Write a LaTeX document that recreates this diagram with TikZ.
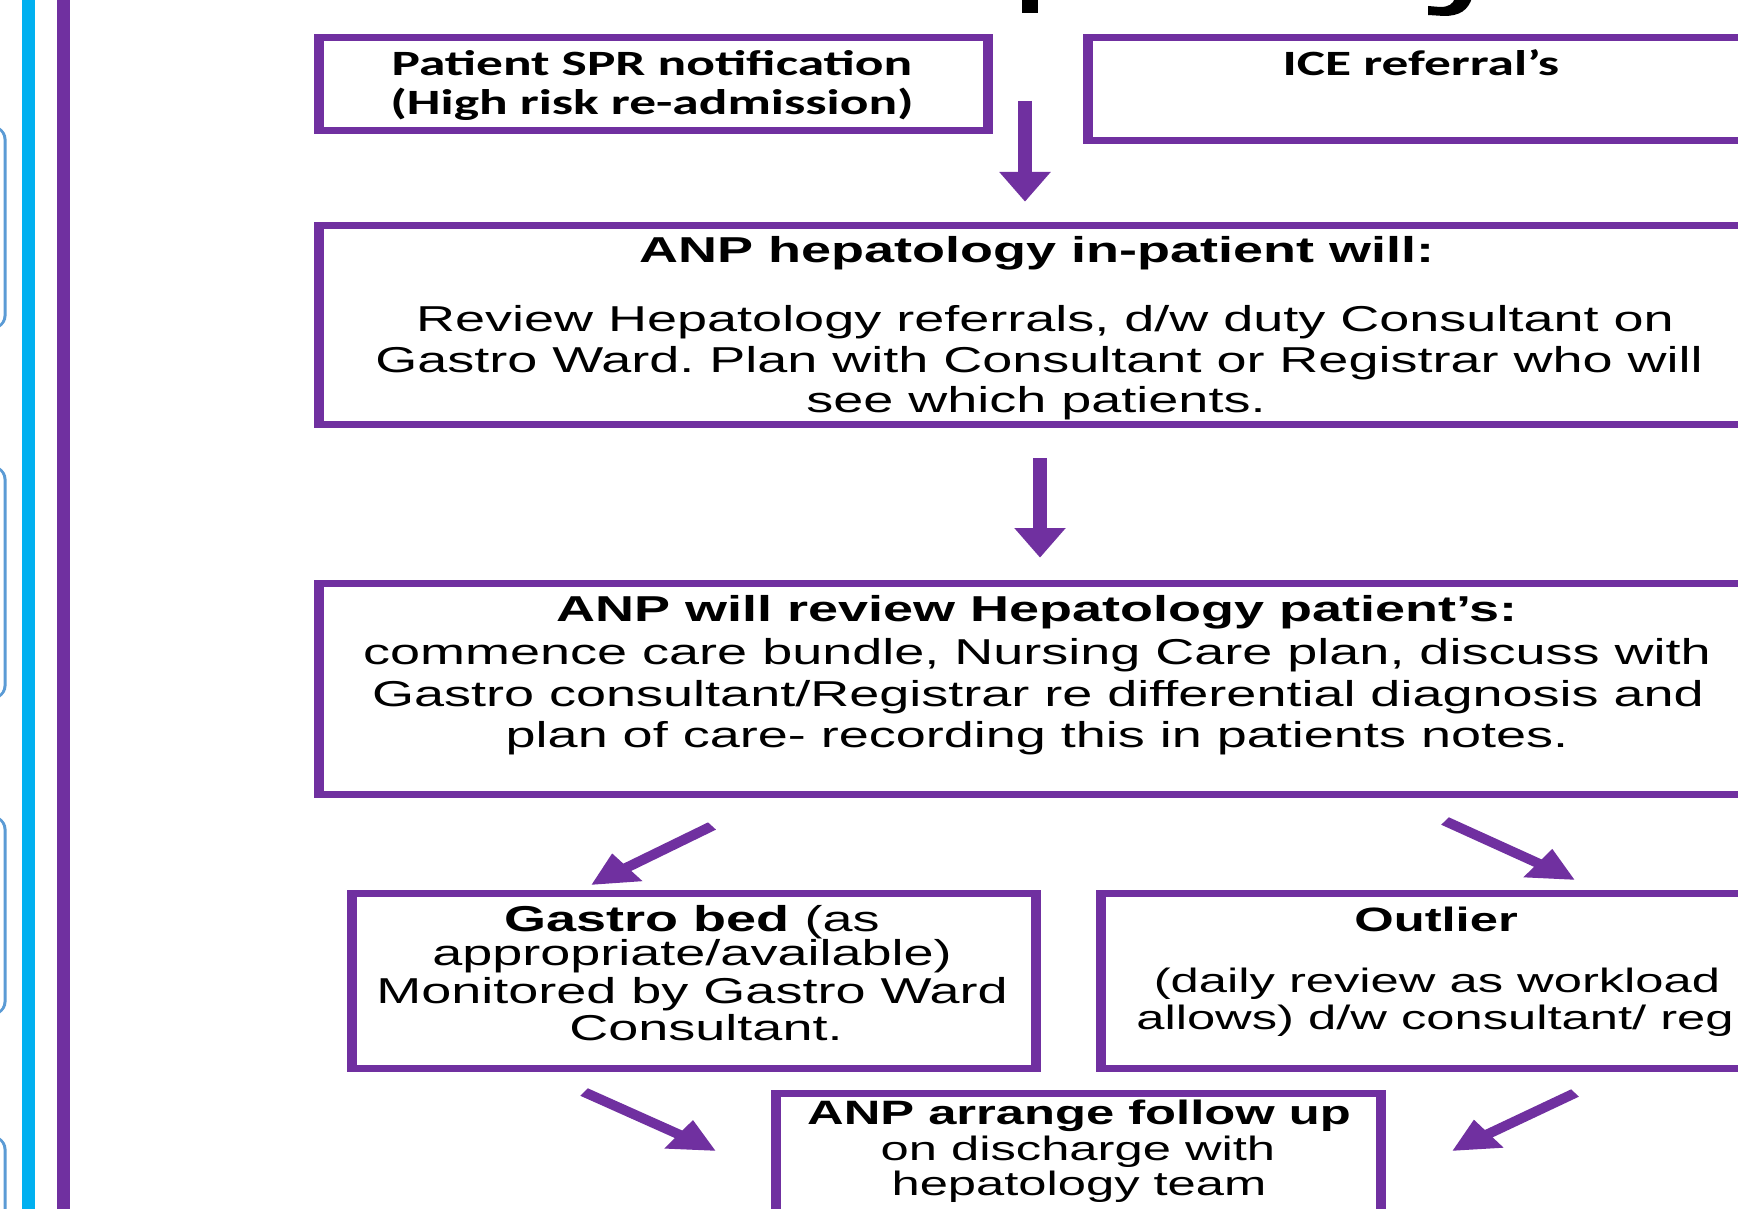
\documentclass[tikz,border=0pt]{standalone}
\usepackage{fontspec}
\setmainfont{Liberation Sans}
\newfontfamily\calib{Carlito}
\usetikzlibrary{arrows.meta,fit}
\definecolor{purp}{HTML}{7030A0}
\definecolor{cyanbar}{HTML}{00B0F0}
\definecolor{sideblue}{HTML}{5B9BD5}
\frenchspacing
\begin{document}
\begin{tikzpicture}[x=1pt,y=-1pt]
\useasboundingbox[fill=white] (0,0) rectangle (1738,1209);
\begin{scope}[x={(0.666667pt,0pt)}, y={(0pt,-1pt)}, transform canvas={xscale=1.5},
  box/.style={draw=purp, line width=7pt, inner sep=0pt, outer sep=0pt},
  big/.style={anchor=base, inner sep=0pt, font=\fontsize{36}{41}\selectfont},
  small/.style={anchor=base, inner sep=0pt, font=\fontsize{33.8}{38}\selectfont},
  cal/.style={anchor=base, inner sep=0pt, font=\calib\bfseries\fontsize{35.6}{40}\selectfont},
  arr/.style={draw=purp, line width=9pt, -{Triangle[width=32pt,length=30pt]}},
  side/.style={draw=sideblue, line width=2pt, rounded corners=16pt}]

% left margin decorations
\draw[side] (-200,123) rectangle (5,332);
\draw[side] (-200,463) rectangle (5,702);
\draw[side] (-200,813) rectangle (5,1018);
\draw[side] (-200,1133) rectangle (5,1500);
\fill[cyanbar] (22,-5) rectangle (35,1215);
\fill[purp] (57,-5) rectangle (70,1215);

% title fragments (descenders)
\fill[black] (1022,-2) rectangle (1038,13);
\fill[black] (1455,-2) -- (1472,-2) .. controls (1468,10) and (1460,16) .. (1444,16)
  -- (1428,15) -- (1428,6) -- (1440,7) .. controls (1449,7) and (1453,4) .. (1455,-2) -- cycle;

% boxes
\node[box, fit={(319,37.5) (988,130.5)}] (A) {};
\node[box, fit={(1088,37.5) (1755,140.5)}] (B) {};
\node[box, fit={(319,225.5) (1770,424.5)}] (C) {};
\node[box, fit={(319,583.5) (1755,794.5)}] (D) {};
\node[box, fit={(352,893.5) (1036,1068.5)}] (E) {};
\node[box, fit={(1101,893.5) (1770,1068.5)}] (F) {};
\node[box, fit={(776,1093.5) (1381,1256)}] (G) {};

% texts
\node[cal] (a1) at (652,76) {Patient SPR notification};
\node[cal] (a2) at (652,115) {(High risk re-admission)};
\node[cal] (b1) at (1421,76) {ICE referral’s};

\node[big, font=\bfseries\fontsize{36}{41}\selectfont] (c0) at (1037,262) {ANP hepatology in-patient will:};
\node[big] (c1) at (1045,331) {Review Hepatology referrals, d/w duty Consultant on};
\node[big] (c2) at (1039,372) {Gastro Ward. Plan with Consultant or Registrar who will};
\node[big] (c3) at (1036,412) {see which patients.};

\node[big, font=\bfseries\fontsize{36}{41}\selectfont] (d0) at (1037,621) {ANP will review Hepatology patient’s:};
\node[big] (d1) at (1037,664) {commence care bundle, Nursing Care plan, discuss with};
\node[big] (d2) at (1038,706) {Gastro consultant/Registrar re differential diagnosis and};
\node[big] (d3) at (1037,747) {plan of care- recording this in patients notes.};

\node[big] (e1) at (692,931) {\textbf{Gastro bed} (as};
\node[big] (e2) at (692,965) {appropriate/available)};
\node[big] (e3) at (692,1003) {Monitored by Gastro Ward};
\node[big] (e4) at (706,1040) {Consultant.};

\node[small, font=\bfseries\fontsize{33.8}{38}\selectfont] (f0) at (1436,931) {Outlier};
\node[small] (f1) at (1437,992) {(daily review as workload};
\node[small, anchor=base west] (f2) at (1136,1029) {allows) d/w consultant/ reg};

\node[small, font=\bfseries\fontsize{33.8}{38}\selectfont] (g0) at (1079,1124) {ANP arrange follow up};
\node[small] (g1) at (1078,1160) {on discharge with};
\node[small] (g2) at (1079,1195) {hepatology team};

% arrows
\coordinate (r1s) at (1025,101);  \coordinate (r1e) at (1025,202);
\coordinate (r2s) at (1040,458);  \coordinate (r2e) at (1040,558);
\coordinate (r3s) at (712,826);   \coordinate (r3e) at (591,885);
\coordinate (r4s) at (1445,821);  \coordinate (r4e) at (1575,880);
\coordinate (r5s) at (584,1092);  \coordinate (r5e) at (716,1151);
\coordinate (r6s) at (1575,1093); \coordinate (r6e) at (1452,1151);
\draw[arr] (r1s) -- (r1e);
\draw[arr] (r2s) -- (r2e);
\draw[arr] (r3s) -- (r3e);
\draw[arr] (r4s) -- (r4e);
\draw[arr] (r5s) -- (r5e);
\draw[arr] (r6s) -- (r6e);
\end{scope}
\end{tikzpicture}
\end{document}
